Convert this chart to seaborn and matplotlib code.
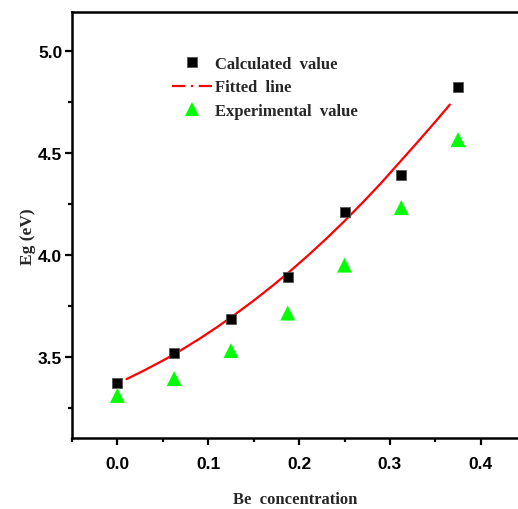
import matplotlib
matplotlib.use("Agg")
import matplotlib.pyplot as plt
from matplotlib.lines import Line2D
from matplotlib.ticker import MultipleLocator
import seaborn as sns
import pandas as pd

# ---- data ----
be_conc = [0.0, 0.0625, 0.125, 0.1875, 0.25, 0.3125, 0.375]
calculated = [3.373, 3.52, 3.687, 3.893, 4.209, 4.391, 4.823]
experimental = [3.31, 3.393, 3.53, 3.714, 3.949, 4.231, 4.564]
fit_x = [0.01, 0.03, 0.05, 0.07, 0.09, 0.11, 0.13, 0.15, 0.17, 0.19,
         0.21, 0.23, 0.25, 0.27, 0.29, 0.31, 0.33, 0.35, 0.366]
fit_y = [3.390, 3.434, 3.481, 3.532, 3.587, 3.646, 3.709, 3.775, 3.845, 3.919,
         3.997, 4.079, 4.165, 4.256, 4.350, 4.450, 4.550, 4.652, 4.736]
x_ticks = [0.0, 0.1, 0.2, 0.3, 0.4]
y_ticks = [3.5, 4.0, 4.5, 5.0]
labels = ["Calculated  value", "Fitted  line", "Experimental  value"]

sns.set_style("ticks")
plt.rcParams["font.family"] = ["Liberation Serif", "DejaVu Serif"]

df_calc = pd.DataFrame({"x": be_conc, "y": calculated})
df_exp = pd.DataFrame({"x": be_conc, "y": experimental})
df_fit = pd.DataFrame({"x": fit_x, "y": fit_y})

fig = plt.figure(figsize=(5.18, 5.10), dpi=100)
ax = fig.add_axes([72 / 518, 1 - 439.3 / 510, 1 - 72 / 518, (439.3 - 13) / 510])

sns.lineplot(data=df_fit, x="x", y="y", ax=ax, color="#ff0000", linewidth=1.6,
             sort=True, estimator=None, zorder=3)
sns.scatterplot(data=df_calc, x="x", y="y", ax=ax, marker="s", color="black",
                s=62, edgecolor="#555555", linewidth=0.6, zorder=4)
sns.scatterplot(data=df_exp, x="x", y="y", ax=ax, marker="^", color="#00ff00",
                s=115, edgecolor="none", linewidth=0, zorder=4)

ax.set_xlim(-0.05, 0.441)
ax.set_ylim(3.1, 5.19)
ax.set_xticks(x_ticks)
ax.set_yticks(y_ticks)
ax.xaxis.set_minor_locator(MultipleLocator(0.05))
ax.yaxis.set_minor_locator(MultipleLocator(0.25))
ax.set_xticklabels([f"{v:.1f}" for v in x_ticks])
ax.set_yticklabels([f"{v:.1f}" for v in y_ticks])
for lab in ax.get_xticklabels() + ax.get_yticklabels():
    lab.set_fontfamily("Liberation Sans")
    lab.set_fontweight("bold")
    lab.set_fontsize(12.5)
ax.tick_params(which="major", direction="out", length=5, width=1.6, pad=8, colors="black")
ax.tick_params(which="minor", direction="out", length=3, width=1.6, colors="black")
ax.tick_params(axis="y", which="major", pad=2)
for side in ["left", "bottom", "top"]:
    ax.spines[side].set_visible(True)
    ax.spines[side].set_linewidth(1.8)
    ax.spines[side].set_color("black")
ax.spines["right"].set_visible(False)

ax.set_xlabel("Be  concentration", fontsize=12, fontweight="bold", labelpad=14)
ax.set_ylabel("Eg (eV)", fontsize=12.5, fontweight="bold")
ax.yaxis.set_label_coords(-0.08, 0.475)

handles = [
    Line2D([], [], marker="s", color="black", linestyle="none", markersize=7.5,
           markeredgecolor="#555555", markeredgewidth=0.6),
    Line2D([], [], color="#ff0000", linestyle=(0, (6, 2.5, 1, 2.5)), linewidth=1.6),
    Line2D([], [], marker="^", color="#00ff00", linestyle="none", markersize=10.5,
           markeredgewidth=0),
]
leg = ax.legend(handles, labels, loc="upper left", bbox_to_anchor=(172 / 518, 1 - 57 / 510),
                bbox_transform=fig.transFigure, frameon=False,
                prop={"family": "Liberation Serif", "weight": "bold", "size": 12},
                handlelength=2.4, handletextpad=0.2, labelspacing=0.45,
                borderpad=0, borderaxespad=0)

fig.savefig("out.png", dpi=100)
